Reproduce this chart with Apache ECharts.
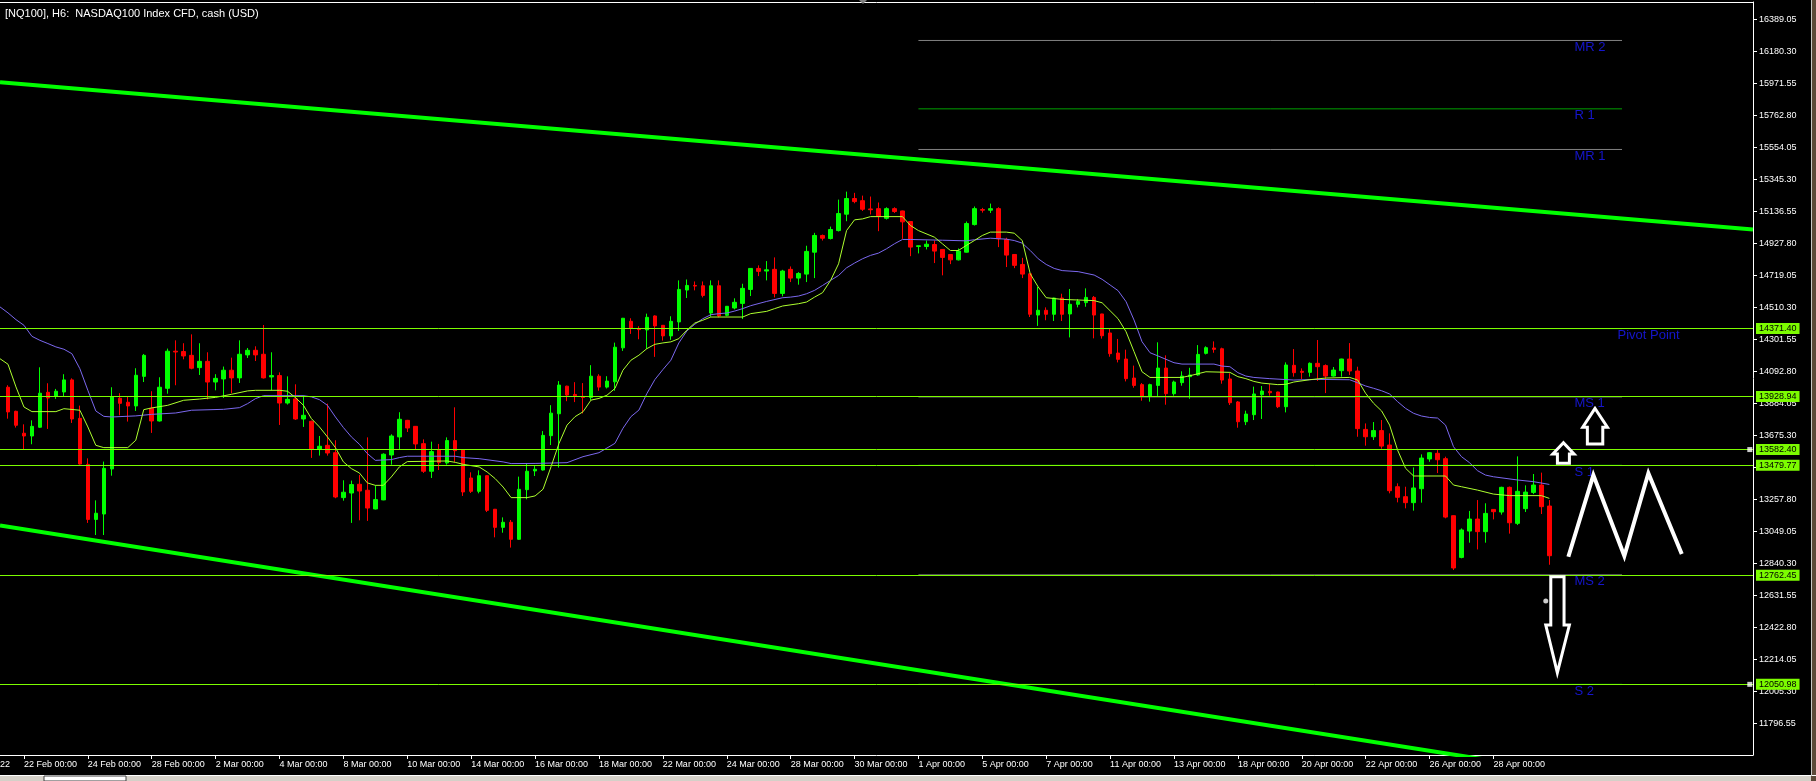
<!DOCTYPE html>
<html>
<head>
<meta charset="utf-8">
<title>[NQ100], H6</title>
<script src="https://cdn.jsdelivr.net/npm/echarts@6/dist/echarts.min.js"></script>
<style>
  html, body { margin: 0; padding: 0; background: #000; }
  #main { width: 1816px; height: 781px; }
</style>
</head>
<body>
<div id="main"></div>
<script>
// H6 bars, [open, close, low, high]; bar number = position in the joined list
// 22 Feb - 16 Mar
var candlesA = [
  [13989,13828,13784,14002],[13832,13741,13726,13836],[13689,13671,13584,13747],[13671,13734,13617,13773],
  [13728,13950,13723,14119],[13956,13919,13717,14015],[13930,13963,13913,13978],[13958,14037,13930,14074],
  [14037,13782,13756,14047],[13786,13488,13484,13869],[13486,13127,13104,13525],[13127,13167,13025,13251],
  [13162,13460,13025,13504],[13456,13928,13412,13989],[13917,13884,13806,13950],[13891,13867,13765,13926],
  [13867,14067,13834,14113],[14060,14197,14023,14206],[13852,13769,13691,13963],[13769,13989,13765,14054],
  [13982,14224,13947,14241],[14224,14219,14002,14295],[14222,14193,14171,14276],[14197,14113,14106,14334],
  [14117,14158,14069,14276],[14158,14023,13910,14217],[14023,14047,13969,14074],[14043,14100,13919,14124],
  [14100,14050,13950,14182],[14050,14204,14017,14295],[14200,14230,14180,14245],[14230,14200,14160,14256],
  [14204,14050,14046,14395],[14056,14065,13969,14217],[14065,13886,13743,14086],[13886,13910,13876,14060],
  [13913,13782,13776,14008],[13782,13806,13730,13936],[13767,13586,13528,13771],[13586,13604,13543,13671],
  [13610,13560,13543,13882],[13562,13273,13265,13643],[13269,13304,13249,13382],[13299,13354,13104,13380],
  [13356,13312,13121,13417],[13317,13201,13117,13662],[13195,13256,13192,13349],[13254,13552,13252,13558],
  [13547,13671,13484,13682],[13665,13780,13586,13826],[13773,13723,13697,13776],[13734,13619,13586,13736],
  [13621,13441,13430,13649],[13441,13569,13397,13634],[13580,13497,13449,13619],[13495,13641,13484,13662],
  [13641,13575,13502,13858],[13580,13306,13280,13583],[13397,13310,13299,13434],[13310,13412,13297,13447],
  [13412,13186,13175,13415],[13193,13075,13010,13195],[13075,13108,13040,13140],[13108,12997,12943,13123],
  [12997,13323,12993,13406],[13321,13441,13258,13488],[13443,13454,13410,13475]
];
// 16 Mar - 7 Apr
var candlesB = [
  [13449,13675,13445,13703],[13673,13820,13612,13872],[13816,14003,13465,14029],[13996,13938,13898,13999],
  [13942,13933,13892,14022],[13929,13922,13818,14016],[13922,14061,13905,14133],[14061,13990,13966,14074],
  [13990,14029,13981,14061],[14024,14250,13966,14280],[14246,14439,14226,14441],[14419,14374,14337,14439],
  [14369,14365,14302,14387],[14363,14445,14239,14469],[14454,14389,14187,14458],[14393,14324,14293,14395],
  [14324,14419,14298,14452],[14415,14627,14356,14686],[14623,14653,14571,14692],[14653,14649,14621,14679],
  [14651,14588,14575,14679],[14473,14651,14449,14686],[14651,14454,14445,14686],[14458,14517,14452,14519],
  [14506,14543,14497,14569],[14536,14634,14434,14664],[14627,14764,14584,14766],[14764,14745,14714,14784],
  [14747,14755,14686,14812],[14758,14601,14575,14836],[14601,14747,14582,14755],[14758,14701,14675,14777],
  [14701,14731,14658,14740],[14727,14875,14675,14912],[14870,14979,14701,14996],[14979,14961,14946,14985],
  [14959,15018,14953,15037],[15011,15122,15005,15213],[15118,15220,15072,15265],[15220,15200,15189,15257],
  [15206,15150,15139,15239],[15152,15147,15116,15233],[15154,15103,15007,15194],[15091,15154,15083,15163],
  [15154,15135,15126,15163],[15139,15068,14957,15141],[15070,14903,14844,15072],[14907,14912,14862,14913],
  [14907,14922,14888,14946],[14920,14877,14799,14946],[14888,14836,14719,14890],[14855,14820,14792,14857],
  [14820,14877,14816,14894],[14870,15057,14868,15070],[15050,15154,15044,15168],[15148,15144,15128,15159],
  [15144,15154,15126,15187],[15154,14957,14903,15163],[14953,14851,14773,14964],[14855,14784,14766,14857],
  [14790,14727,14701,14833],[14729,14465,14447,14731],[14460,14491,14389,14643],[14491,14465,14426,14510],
  [14465,14571,14421,14573],[14571,14465,14421,14599]
];
// 7 Apr - 29 Apr
var candlesC = [
  [14467,14530,14314,14630],[14530,14549,14510,14564],[14541,14575,14514,14634],[14575,14460,14308,14584],
  [14467,14325,14306,14468],[14343,14208,14188,14369],[14212,14171,14151,14304],[14173,14045,14027,14234],
  [14049,14001,13986,14130],[14006,13932,13901,14016],[13932,14006,13895,14012],[14001,14114,13932,14282],
  [14114,13947,13875,14197],[13947,14023,13934,14032],[14019,14062,13999,14093],[14058,14069,13914,14116],
  [14069,14203,14064,14264],[14210,14247,14203,14256],[14245,14236,14214,14288],[14240,14036,14012,14247],
  [14043,13888,13873,14080],[13893,13764,13725,13899],[13764,13814,13742,13836],[13810,13945,13775,13993],
  [13940,13964,13782,13997],[13962,13953,13934,14010],[13958,13862,13853,13960],[13862,14134,13825,14151],
  [14132,14084,14058,14238],[14093,14086,14043,14112],[14086,14145,14058,14151],[14145,14123,14030,14297],
  [14130,14062,13951,14138],[14062,14101,14058,14121],[14097,14173,14058,14175],[14173,14095,14069,14277],
  [14095,13719,13666,14123],[13714,13666,13608,13753],[13666,13706,13645,13762],[13706,13605,13588,13775],
  [13612,13314,13297,13688],[13340,13271,13238,13362],[13275,13236,13199,13340],[13236,13332,13184,13466],
  [13327,13527,13236,13551],[13521,13562,13503,13566],[13558,13516,13429,13579],[13523,13142,13134,13536],
  [13151,12810,12797,13153],[12879,13058,12873,13068],[13051,13129,12975,13182],[13129,13047,12931,13253],
  [13047,13166,12975,13232],[13192,13177,13127,13194],[13175,13336,13158,13340],[13336,13105,13034,13341],
  [13101,13310,13090,13538],[13197,13305,13175,13349],[13303,13351,13292,13423],[13351,13210,13162,13432],
  [13214,12890,12831,13253]
];

// moving averages, [bar, value]
var fastMa = [
  [-1,14175],[0,14139],[1,13991],[2,13860],[3,13830],[6,13830],[7,13849],[9,13839],[10,13730],[11,13610],
  [12,13595],[15,13595],[16,13643],[17,13843],[18,13854],[20,13871],[22,13904],[24,13912],[26,13923],
  [28,13943],[30,13965],[31,13969],[34,13969],[35,13963],[36,13921],[37,13871],[38,13784],[39,13730],
  [40,13665],[41,13595],[42,13502],[43,13458],[44,13430],[45,13365],[46,13349],[47,13349],[48,13404],
  [49,13469],[50,13504],[55,13508],[56,13499],[57,13486],[59,13469],[60,13436],[61,13393],[62,13338],
  [63,13269],[65,13269],[66,13280],[67,13324],[68,13471],[69,13623],[70,13742],[71,13797],[72,13829],
  [73,13905],[74,13916],[75,13937],[76,13981],[77,14100],[78,14165],[79,14198],[80,14241],[81,14269],
  [82,14278],[83,14285],[84,14306],[85,14361],[86,14408],[87,14426],[88,14447],[92,14447],[93,14469],
  [95,14484],[96,14502],[97,14519],[99,14534],[100,14545],[101,14577],[102,14606],[103,14686],[104,14794],
  [105,15011],[106,15081],[107,15087],[108,15102],[112,15102],[113,15044],[114,15011],[116,14968],
  [117,14925],[118,14881],[119,14881],[120,14914],[121,14946],[122,14979],[123,15001],[125,15001],
  [126,14994],[127,14946],[128,14729],[129,14643],[130,14573],[132,14562],[136,14554],[137,14540],
  [138,14488],[139,14436],[140,14351],[141,14221],[142,14090],[143,14053],[147,14053],[148,14064],
  [149,14077],[150,14090],[153,14086],[154,14058],[155,14045],[156,14027],[157,14016],[159,14006],
  [160,14008],[161,14023],[163,14038],[165,14049],[168,14053],[169,14036],[170,13949],[171,13884],
  [172,13834],[173,13742],[174,13579],[175,13460],[176,13410],[180,13410],[181,13351],[182,13340],
  [184,13318],[186,13292],[188,13282],[192,13282],[193,13264]
];
var slowMa = [
  [-1,14513],[0,14474],[1,14430],[2,14393],[3,14321],[4,14295],[5,14274],[6,14252],[7,14237],[8,14208],
  [9,14110],[10,13969],[11,13834],[12,13799],[13,13795],[16,13802],[18,13812],[21,13821],[23,13839],
  [27,13845],[29,13856],[30,13882],[31,13915],[32,13934],[37,13934],[38,13926],[39,13908],[40,13871],
  [41,13795],[42,13726],[43,13665],[44,13617],[45,13556],[46,13512],[48,13517],[49,13530],[50,13539],
  [56,13539],[57,13530],[59,13523],[62,13502],[63,13491],[66,13492],[70,13497],[72,13536],[74,13562],
  [76,13623],[77,13721],[78,13797],[79,13840],[80,13948],[81,14039],[82,14104],[83,14165],[84,14278],
  [85,14356],[86,14400],[87,14436],[88,14462],[89,14469],[90,14473],[91,14486],[92,14502],[93,14521],
  [95,14549],[97,14573],[98,14577],[99,14584],[100,14599],[101,14621],[102,14653],[103,14686],[104,14718],
  [105,14768],[106,14799],[107,14827],[108,14849],[109,14864],[110,14892],[111,14925],[112,14953],
  [113,14953],[117,14948],[120,14944],[121,14951],[123,14961],[125,14955],[126,14946],[127,14929],
  [128,14881],[129,14827],[130,14790],[131,14764],[132,14750],[134,14743],[136,14721],[137,14693],
  [138,14656],[139,14619],[140,14547],[141,14427],[142,14286],[143,14214],[144,14193],[145,14171],
  [146,14149],[147,14140],[151,14140],[152,14127],[153,14123],[154,14084],[155,14062],[156,14053],
  [158,14045],[161,14036],[164,14040],[168,14038],[169,14018],[170,13997],[171,13982],[172,13966],
  [173,13945],[174,13895],[175,13851],[176,13819],[177,13801],[178,13792],[179,13788],[180,13742],
  [181,13601],[182,13536],[183,13497],[184,13445],[185,13416],[186,13405],[189,13384],[191,13373],
  [193,13355]
];

// date labels on the time scale
var tickIdx = [2,10,18,26,34,42,50,58,66,74,82,90,98,106,114,122,130,138,146,154,162,170,178,186];
var tickText = ['22 Feb 00:00','24 Feb 00:00','28 Feb 00:00','2 Mar 00:00','4 Mar 00:00','8 Mar 00:00',
  '10 Mar 00:00','14 Mar 00:00','16 Mar 00:00','18 Mar 00:00','22 Mar 00:00','24 Mar 00:00',
  '28 Mar 00:00','30 Mar 00:00','1 Apr 00:00','5 Apr 00:00','7 Apr 00:00','11 Apr 00:00',
  '13 Apr 00:00','18 Apr 00:00','20 Apr 00:00','22 Apr 00:00','26 Apr 00:00','28 Apr 00:00'];

// price scale
var priceTicks = [16389.05,16180.30,15971.55,15762.80,15554.05,15345.30,15136.55,14927.80,14719.05,
  14510.30,14301.55,14092.80,13884.05,13675.30,13466.55,13257.80,13049.05,12840.30,12631.55,
  12422.80,12214.05,12005.30,11796.55];

// horizontal lines with price tags
var levelValues = [14371.40, 13928.94, 13582.40, 13479.77, 12762.45, 12050.98];
var selectedLevels = [13582.40, 12050.98];

// channel lines [bar, price]
var upperChannel = [[-1, 15979], [218.5, 15018]];
var lowerChannel = [[-1, 13087], [190, 11519]];

// pivot indicator
var pivotNames = ['MR 2', 'R 1', 'MR 1', 'Pivot Point', 'MS 1', 'S 1', 'MS 2', 'S 2'];
var pivotValues = [16251, 15805, 15540, 14371.40, 13926, 13479.77, 12765, 12050.98];
var pivotColors = ['#808080', '#00a000', '#808080', '#00a000', '#808080', '#00a000', '#808080', '#00a000'];
var pivotStart = 114, pivotEnd = 202.1;
var pivotLabelX = [196.2, 196.2, 196.2, 201.6, 196.2, 196.2, 196.2, 196.2];

// hand drawn marks [bar, price]
var bigUpArrow = [[198.72,13851],[197.18,13728],[197.76,13728],[197.76,13619],[199.69,13619],[199.69,13728],[200.27,13728]];
var smallUpArrow = [[194.76,13627],[193.43,13553],[194.01,13553],[194.01,13493],[195.51,13493],[195.51,13553],[196.09,13553]];
var downArrow = [[193.18,12753],[194.84,12753],[194.84,12438],[195.51,12438],[194.0,12127],[192.55,12438],[193.18,12438]];
var zigzag = [[195.38,12883],[198.51,13416],[202.39,12888],[205.40,13428],[209.58,12901]];
var dotMark = [[192.55,12594]];

var FONT = 'Liberation Sans';
var candles = candlesA.concat(candlesB, candlesC);
var candleData = candles.map(function (c, i) { return [i, c[0], c[1], c[2], c[3]]; });
var arrows = [bigUpArrow, smallUpArrow, downArrow];

var series = [];

// pivot indicator lines (drawn first, underneath)
pivotValues.forEach(function (v, k) {
  series.push({
    type: 'line', silent: true, symbol: 'none', z: 1,
    data: [[pivotStart, v], [pivotEnd, v]],
    lineStyle: { color: pivotColors[k], width: 1 }
  });
});

series.push({
  type: 'candlestick',
  data: candleData,
  barWidth: 4,
  z: 2,
  itemStyle: {
    color: '#00ff00', color0: '#ff0000',
    borderColor: '#00ff00', borderColor0: '#ff0000', borderWidth: 1
  },
  markLine: {
    silent: true, symbol: ['none', 'none'], z: 6,
    lineStyle: { color: '#7cfc00', width: 1, type: 'solid' },
    label: {
      show: true, position: 'end', distance: 3,
      formatter: function (p) { return Number(p.value).toFixed(2); },
      color: '#000', backgroundColor: '#7cfc00',
      fontFamily: FONT, fontSize: 9, padding: [1, 3, 1, 3]
    },
    data: levelValues.map(function (v) { return { yAxis: v }; })
  }
});

series.push({
  type: 'line', data: slowMa, symbol: 'none', z: 3, silent: true,
  lineStyle: { color: '#7b68ee', width: 1 }
});
series.push({
  type: 'line', data: fastMa, symbol: 'none', z: 3, silent: true,
  lineStyle: { color: '#adff2f', width: 1 }
});
series.push({
  type: 'line', data: upperChannel, symbol: 'none', z: 4, silent: true,
  lineStyle: { color: '#00ff00', width: 4 }
});
series.push({
  type: 'line', data: lowerChannel, symbol: 'none', z: 4, silent: true,
  lineStyle: { color: '#00ff00', width: 4 }
});

// pivot names
series.push({
  type: 'scatter', z: 7, silent: true, symbolSize: 1,
  itemStyle: { color: 'rgba(0,0,0,0)' },
  data: pivotValues.map(function (v, k) { return [pivotLabelX[k], v, pivotNames[k]]; }),
  label: {
    show: true, position: [0, 1], align: 'left', verticalAlign: 'top',
    formatter: function (p) { return p.value[2]; },
    color: '#1a1aff', fontFamily: FONT, fontSize: 13
  }
});

// little selection squares at the line ends
series.push({
  type: 'scatter', z: 8, silent: true, symbol: 'rect', symbolSize: 5,
  itemStyle: { color: '#fff' },
  data: selectedLevels.map(function (v) { return [218.1, v]; })
});

// drawn arrows
series.push({
  type: 'custom', z: 9, silent: true,
  data: arrows.map(function (a) { return a[0]; }),
  renderItem: function (params, api) {
    var pts = arrows[params.dataIndex].map(function (p) { return api.coord(p); });
    return {
      type: 'polygon',
      shape: { points: pts },
      style: { fill: '#000', stroke: '#fff', lineWidth: 3, lineJoin: 'miter' }
    };
  }
});
series.push({
  type: 'line', data: zigzag, symbol: 'none', z: 9, silent: true,
  lineStyle: { color: '#fff', width: 4, join: 'miter' }
});
series.push({
  type: 'scatter', data: dotMark, z: 9, silent: true, symbolSize: 5,
  itemStyle: { color: '#fff' }
});

var option = {
  backgroundColor: '#000',
  animation: false,
  textStyle: { fontFamily: FONT },
  grid: { left: 0, right: 63, top: 2, bottom: 26, containLabel: false, outerBoundsMode: 'none' },
  xAxis: [{
    type: 'value', min: -1, max: 218.5, position: 'bottom',
    axisLine: { show: true, onZero: false, lineStyle: { color: '#fff', width: 1 } },
    axisTick: { show: true, length: 4, customValues: tickIdx, lineStyle: { color: '#fff' } },
    axisLabel: {
      customValues: tickIdx, align: 'left', margin: 5,
      color: '#fff', fontFamily: FONT, fontSize: 9,
      formatter: function (v) { var k = tickIdx.indexOf(v); return k < 0 ? '' : tickText[k]; }
    },
    splitLine: { show: false }
  }, {
    type: 'value', min: -1, max: 218.5, position: 'top',
    axisLine: { show: true, onZero: false, lineStyle: { color: '#fff', width: 1 } },
    axisTick: { show: false }, axisLabel: { show: false }, splitLine: { show: false }
  }],
  yAxis: {
    type: 'value', position: 'right', min: 11590, max: 16502,
    axisLine: { show: true, onZero: false, lineStyle: { color: '#fff', width: 1 } },
    axisTick: { show: true, length: 4, customValues: priceTicks, lineStyle: { color: '#fff' } },
    axisLabel: {
      customValues: priceTicks, margin: 6,
      color: '#fff', fontFamily: FONT, fontSize: 9,
      formatter: function (v) { return Number(v).toFixed(2); }
    },
    splitLine: { show: false }
  },
  graphic: [
    { type: 'text', left: 5, top: 8, z: 10,
      style: { text: '[NQ100], H6:  NASDAQ100 Index CFD, cash (USD)', fill: '#fff', font: '11px "Liberation Sans"' } },
    { type: 'polygon', z: 10, shape: { points: [[859, 0], [867, 0], [863, 4]] }, style: { fill: '#808080' } },
    { type: 'text', left: 0, top: 760, z: 10,
      style: { text: '22', fill: '#fff', font: '9px "Liberation Sans"' } },
    { type: 'rect', z: 10, shape: { x: 0, y: 775, width: 1816, height: 6 }, style: { fill: '#d4d0c8' } },
    { type: 'line', z: 11, shape: { x1: 0, y1: 775.5, x2: 1816, y2: 775.5 }, style: { stroke: '#ffffff', lineWidth: 1 } },
    { type: 'rect', z: 11, shape: { x: 44, y: 776, width: 82, height: 5 }, style: { fill: '#ffffff', stroke: '#404040', lineWidth: 1 } },
    { type: 'rect', z: 10, shape: { x: 1811, y: 0, width: 5, height: 781 }, style: { fill: '#5c4a3a' } },
    { type: 'line', z: 11, shape: { x1: 1811.5, y1: 0, x2: 1811.5, y2: 776 }, style: { stroke: '#c8c8c8', lineWidth: 1 } }
  ],
  series: series
};

var chart = echarts.init(document.getElementById('main'));
chart.setOption(option);
</script>
</body>
</html>
